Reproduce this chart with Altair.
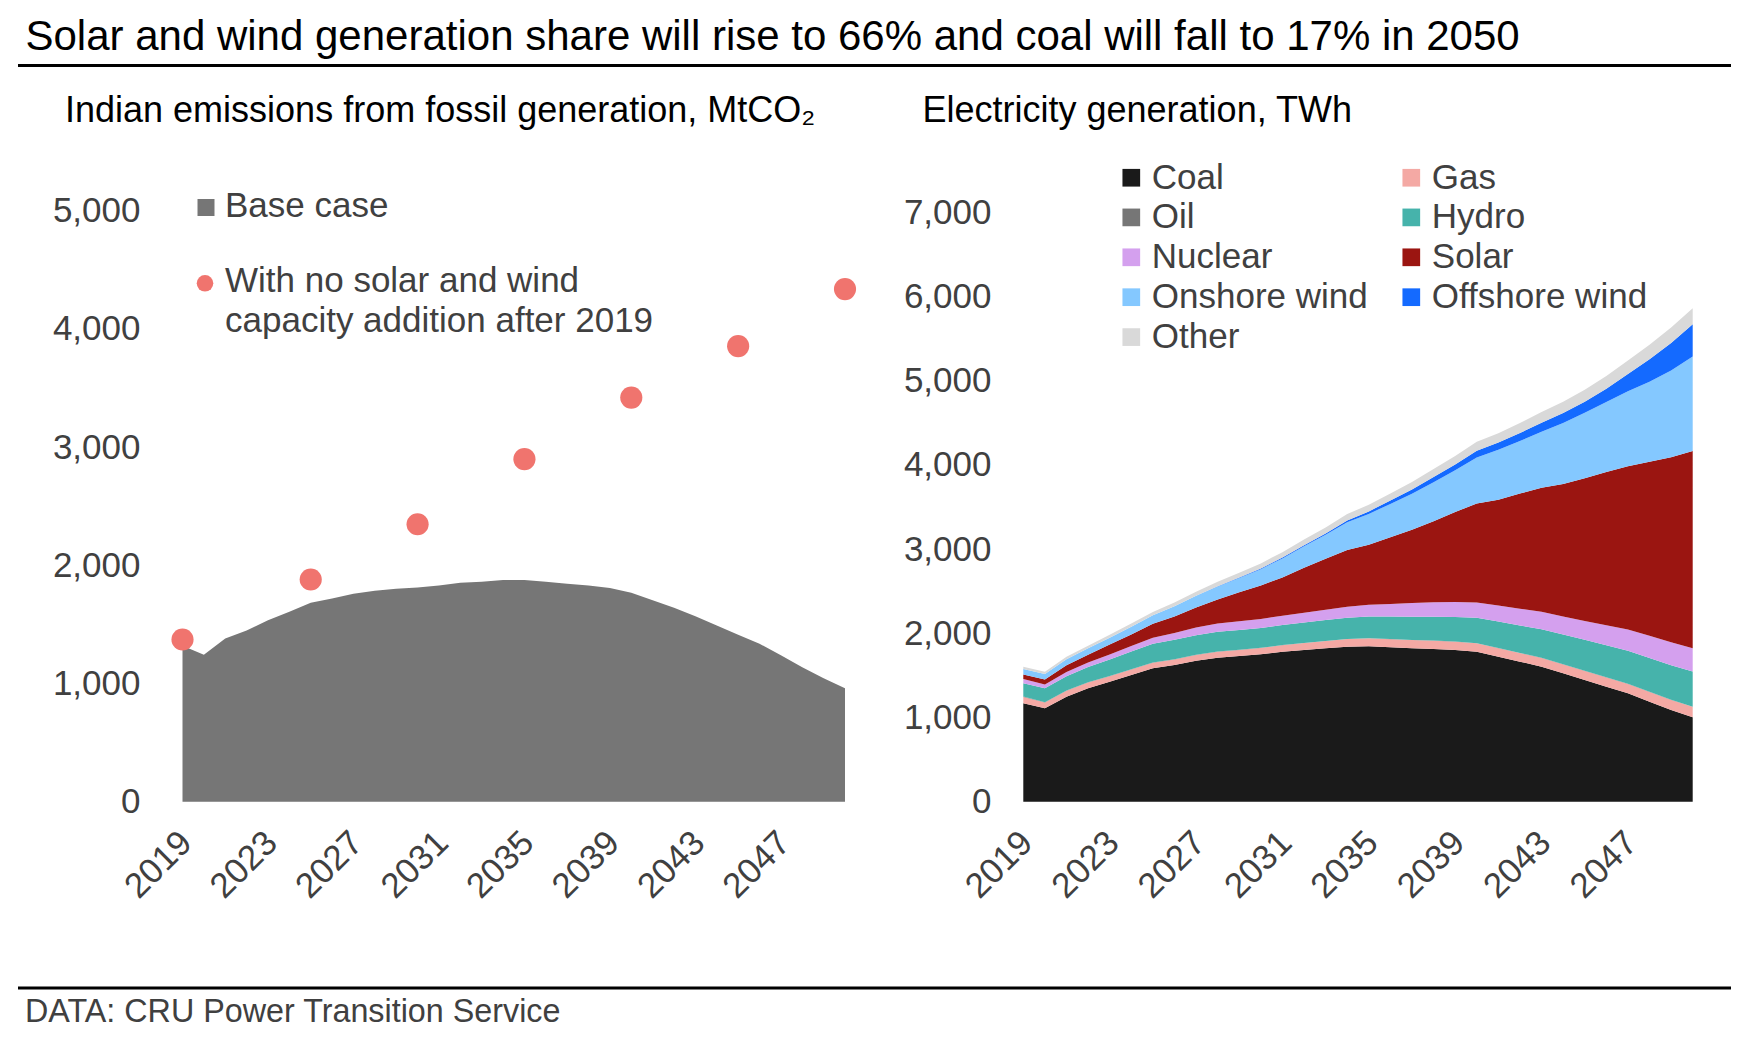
import altair as alt
import pandas as pd

FONT = "Liberation Sans"
LABEL_COLOR = "#404040"

TITLE = "Solar and wind generation share will rise to 66% and coal will fall to 17% in 2050"
SUB_LEFT = "Indian emissions from fossil generation, MtCO\u2082"
SUB_RIGHT = "Electricity generation, TWh"
FOOTER = "DATA: CRU Power Transition Service"
LEG_BASE = "Base case"
LEG_NOSW = "With no solar and wind\ncapacity addition after 2019"

YEARS = [2019, 2020, 2021, 2022, 2023, 2024, 2025, 2026, 2027, 2028,
         2029, 2030, 2031, 2032, 2033, 2034, 2035, 2036, 2037, 2038,
         2039, 2040, 2041, 2042, 2043, 2044, 2045, 2046, 2047, 2048,
         2049, 2050]
TICK_YEARS = [2019, 2023, 2027, 2031, 2035, 2039, 2043, 2047]

# Left panel: emissions (MtCO2)
BASE_CASE = [1320, 1244, 1380, 1448, 1535, 1606, 1683, 1719, 1759, 1784,
             1801, 1812, 1829, 1852, 1861, 1875, 1875, 1861, 1844, 1829,
             1807, 1767, 1705, 1640, 1569, 1490, 1412, 1336, 1240, 1137,
             1044, 959]
NO_SW_YEARS = [2019, 2025, 2030, 2035, 2040, 2045, 2050]
NO_SW_VALUES = [1372, 1880, 2347, 2898, 3419, 3854, 4337]
LEFT_Y_TICKS = [0, 1000, 2000, 3000, 4000, 5000]

# Right panel: generation (TWh), listed in stacking order (bottom first)
SOURCES = ["Coal", "Gas", "Oil", "Hydro", "Nuclear", "Solar",
           "Onshore wind", "Offshore wind", "Other"]
COLORS = ["#1A1A1A", "#F4A9A4", "#767676", "#46B3AB", "#D4A0EE", "#9B1511",
          "#84C8FF", "#146AFF", "#D9D9D9"]
# legend reading order (column by column)
LEGEND_ORDER = ["Coal", "Oil", "Nuclear", "Onshore wind", "Other",
                "Gas", "Hydro", "Solar", "Offshore wind"]
COAL = [1169, 1109, 1247, 1347, 1425, 1505, 1584, 1624, 1675, 1711,
        1730, 1750, 1781, 1802, 1822, 1841, 1845, 1833, 1822, 1814,
        1802, 1781, 1722, 1663, 1603, 1525, 1445, 1366, 1287, 1188,
        1089, 1002]
GAS = [75, 68, 70, 68, 66, 65, 65, 66, 68, 70,
       72, 75, 78, 82, 86, 90, 95, 96, 97, 98,
       99, 100, 101, 102, 104, 105, 107, 109, 112, 115,
       120, 125]
OIL = [4, 4, 4, 4, 3, 3, 3, 3, 3, 3,
       2, 2, 2, 2, 2, 2, 2, 2, 2, 2,
       2, 2, 2, 2, 2, 2, 2, 2, 2, 2,
       2, 2]
HYDRO = [160, 165, 170, 180, 195, 210, 225, 230, 232, 233,
         234, 236, 238, 242, 247, 252, 258, 268, 276, 284,
         292, 302, 314, 326, 340, 354, 368, 380, 392, 402,
         410, 416]
NUCLEAR = [50, 45, 50, 55, 60, 65, 70, 80, 90, 100,
           105, 108, 110, 115, 122, 130, 140, 150, 162, 170,
           176, 182, 192, 200, 208, 215, 224, 238, 252, 264,
           272, 278]
SOLAR = [52, 59, 79, 91, 119, 139, 167, 198, 237, 285,
         344, 396, 455, 535, 606, 673, 713, 792, 871, 962,
         1069, 1176, 1254, 1366, 1472, 1572, 1694, 1820, 1940, 2066,
         2197, 2343]
ONSHORE = [65, 66, 72, 76, 80, 90, 100, 120, 140, 155,
           170, 195, 225, 255, 285, 330, 365, 396, 428, 463,
           495, 546, 594, 624, 666, 724, 780, 832, 890, 950,
           1030, 1120]
OFFSHORE = [0, 0, 0, 0, 0, 0, 0, 0, 0, 3,
            5, 8, 11, 14, 16, 22, 30, 40, 51, 63,
            71, 79, 87, 95, 107, 119, 131, 158, 206, 269,
            329, 384]
OTHER = [28, 28, 30, 32, 35, 38, 40, 44, 48, 52,
         56, 60, 64, 68, 72, 76, 79, 83, 87, 95,
         99, 107, 111, 119, 127, 135, 143, 150, 158, 170,
         182, 190]
SERIES = [COAL, GAS, OIL, HYDRO, NUCLEAR, SOLAR, ONSHORE, OFFSHORE, OTHER]
RIGHT_Y_TICKS = [0, 1000, 2000, 3000, 4000, 5000, 6000, 7000]

# ---------------- data frames ----------------
base_df = pd.DataFrame({"year": YEARS, "value": BASE_CASE})
pts_df = pd.DataFrame({"year": NO_SW_YEARS, "value": NO_SW_VALUES})
rows = []
for k, (name, vals) in enumerate(zip(SOURCES, SERIES)):
    for yr, v in zip(YEARS, vals):
        rows.append({"year": yr, "source": name, "value": v, "k": k})
gen_df = pd.DataFrame(rows)
color_of = dict(zip(SOURCES, COLORS))
one = pd.DataFrame({"a": [0]})

# ---------------- layout (one view, pixel ranges) ----------------
W, H = 1736, 1036
Y0 = 793.7                      # baseline (value 0) of both panels
L_X = [174.5, 837.0]            # left panel x range
R_X = [1015.3, 1684.7]          # right panel x range
L_Y = [Y0, Y0 - 5000 * 0.1182]  # 0 .. 5000
R_Y = [Y0, Y0 - 7000 * 0.0842]  # 0 .. 7000
X_AXIS_OFFSET = -(H - Y0)


def x_axis():
    return alt.Axis(values=TICK_YEARS, format="d", orient="bottom", offset=X_AXIS_OFFSET,
                    labelAngle=-45, labelAlign="right", labelBaseline="top",
                    labelPadding=23, labelOffset=-9, labelFontSize=35,
                    labelColor=LABEL_COLOR, labelFont=FONT, domain=False, ticks=False,
                    grid=False, title=None, labelOverlap=False)


def y_axis(vals, offset, pad):
    return alt.Axis(values=vals, format=",.0f", orient="left", offset=offset,
                    labelFontSize=35, labelColor=LABEL_COLOR, labelFont=FONT,
                    labelPadding=pad, domain=False, ticks=False, grid=False, title=None,
                    labelOverlap=False)


def text_layer(txt, x, y, size=35, color="black", **kw):
    return alt.Chart(pd.DataFrame({"t": [txt]})).mark_text(
        align="left", baseline="alphabetic", font=FONT, fontSize=size, color=color, **kw
    ).encode(x=alt.value(x), y=alt.value(y), text="t:N")


def hrule(y, width):
    return alt.Chart(one).mark_rule(color="black", strokeWidth=width).encode(
        x=alt.value(10), x2=alt.value(1723), y=alt.value(y))


# left panel
lx = alt.X("year:Q", scale=alt.Scale(domain=[2019, 2050], range=L_X, nice=False, zero=False),
           axis=x_axis())
ly = alt.Y("value:Q", scale=alt.Scale(domain=[0, 5000], range=L_Y, nice=False),
           axis=y_axis(LEFT_Y_TICKS, -L_X[0], 42.5))
left_area = alt.Chart(base_df).mark_area(color="#767676").encode(x=lx, y=ly)
left_pts = alt.Chart(pts_df).mark_circle(size=490, color="#F0746E", opacity=1).encode(
    x="year:Q", y="value:Q")
left = alt.layer(left_area, left_pts)

# right panel
right = alt.Chart(gen_df).mark_area().encode(
    x=alt.X("year:Q", scale=alt.Scale(domain=[2019, 2050], range=R_X, nice=False, zero=False),
            axis=x_axis()),
    y=alt.Y("value:Q", stack="zero",
            scale=alt.Scale(domain=[0, 7000], range=R_Y, nice=False),
            axis=y_axis(RIGHT_Y_TICKS, -R_X[0], 32.3)),
    color=alt.Color("source:N",
                    scale=alt.Scale(domain=LEGEND_ORDER,
                                    range=[color_of[s] for s in LEGEND_ORDER]),
                    legend=alt.Legend(orient="none", legendX=1105.8, legendY=152,
                                      columns=2, symbolType="square", symbolSize=313,
                                      symbolStrokeWidth=0, symbolOpacity=1,
                                      labelFontSize=35, labelFont=FONT,
                                      labelColor=LABEL_COLOR, labelOffset=3,
                                      columnPadding=26, rowPadding=3.9, padding=0,
                                      title=None, labelLimit=0)),
    order=alt.Order("k:Q", sort="ascending"),
)

# left legend (manual)
leg_sq = alt.Chart(one).mark_square(size=289, color="#767676", opacity=1).encode(
    x=alt.value(198), y=alt.value(199.5))
leg_ci = alt.Chart(one).mark_circle(size=275, color="#F0746E", opacity=1).encode(
    x=alt.value(197), y=alt.value(275.3))

chart = alt.layer(
    left,
    right,
    text_layer(TITLE, 17.5, 42, size=42),
    hrule(57.5, 3),
    text_layer(SUB_LEFT, 57, 113.7, size=36),
    text_layer(SUB_RIGHT, 914.5, 113.7, size=36),
    leg_sq,
    leg_ci,
    text_layer(LEG_BASE, 217, 208.7, color=LABEL_COLOR),
    text_layer(LEG_NOSW, 217, 283.7, color=LABEL_COLOR, lineBreak="\n", lineHeight=40),
    hrule(980, 3),
    text_layer(FOOTER, 17, 1013.7, size=32.3, color=LABEL_COLOR),
).resolve_scale(x="independent", y="independent").properties(
    width=W, height=H, padding=0
).configure_view(stroke=None).configure_text(font=FONT)

chart.save("out.html", embed_options={"renderer": "svg", "actions": False})
